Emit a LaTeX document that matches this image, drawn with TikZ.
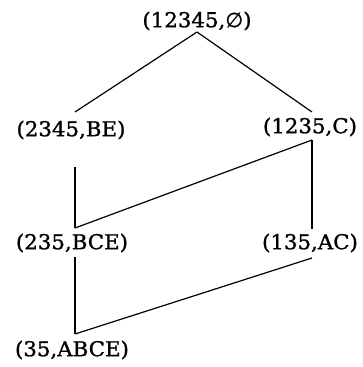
\documentclass[tikz,border=0pt]{standalone}
\usepackage{fontspec}
\newfontfamily\lblfont{DejaVu Serif}[FakeStretch=1.04,FakeBold=1.2]
\newfontfamily\symfont{DejaVu Sans}[FakeBold=1.2]
\begin{document}
\begin{tikzpicture}[x=1pt,y=-1pt,
  lbl/.style={inner sep=0pt,font=\fontsize{20.5}{24}\lblfont},
  conn/.style={line width=1.2pt,black}]
\useasboundingbox (0,0) rectangle (362,367);
\node[lbl] (top) at (197,21) {(12345,{\symfont ∅})};
\node[lbl] (a) at (71,130) {(2345,BE)};
\node[lbl] (b) at (310,127) {(1235,C)};
\node[lbl] (c) at (72,243) {(235,BCE)};
\node[lbl] (d) at (310,243) {(135,AC)};
\node[lbl] (e) at (72,350) {(35,ABCE)};
\draw[conn] ([yshift=-11pt]top.center) -- ([shift={(4pt,18pt)}]a.center);
\draw[conn] ([yshift=-11pt]top.center) -- ([shift={(2pt,15pt)}]b.center);
\draw[conn] ([shift={(4pt,-37pt)}]a.center) -- ([shift={(3pt,15pt)}]c.center);
\draw[conn] ([shift={(2pt,-13pt)}]b.center) -- ([shift={(3pt,15pt)}]c.center);
\draw[conn] ([shift={(2pt,-13pt)}]b.center) -- ([shift={(2pt,14pt)}]d.center);
\draw[conn] ([shift={(3pt,-14pt)}]c.center) -- ([shift={(3pt,16pt)}]e.center);
\draw[conn] ([shift={(2pt,-15pt)}]d.center) -- ([shift={(3pt,16pt)}]e.center);
\end{tikzpicture}
\end{document}
